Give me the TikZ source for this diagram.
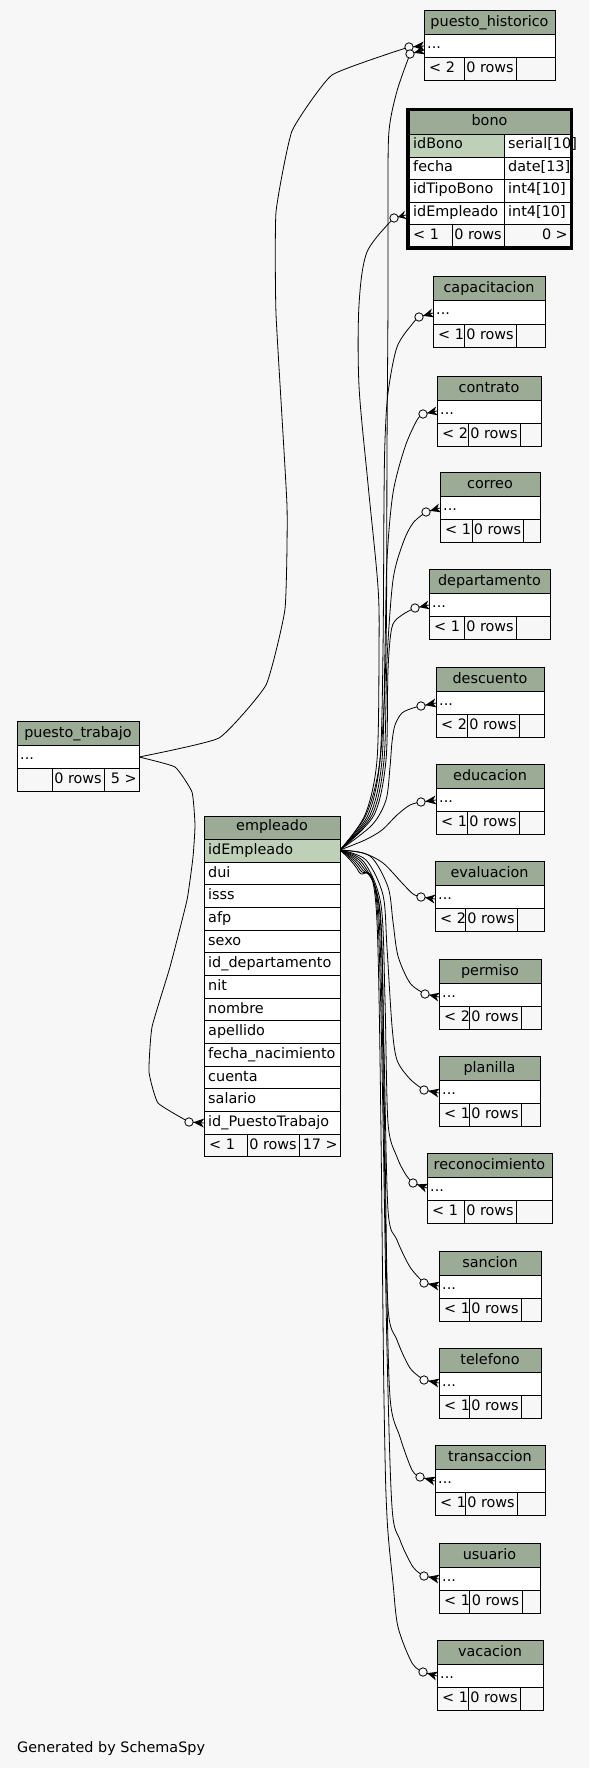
\documentclass[tikz,border=0pt]{standalone}
\usepackage{fontspec}
\setmainfont{DejaVu Sans}
\usetikzlibrary{calc}
\definecolor{bgc}{HTML}{F7F7F7}
\definecolor{hdrc}{HTML}{9BAB96}
\definecolor{pkc}{HTML}{BED1B8}
\newlength\hw
\newcommand\tblfont{\fontsize{14.4}{17}\selectfont}
\tikzset{
 txt/.style={inner sep=0pt, anchor=base, font=\tblfont},
 cell/.style={draw=black, line width=1pt},
 conn/.style={draw=black, line width=0.8pt},
}
\newcommand\ctext[4]{%
 \settowidth\hw{\tblfont #4}%
 \node[txt, xshift=0.06\hw] (#1) at (#2,#3) {#4};}
% name, x1, x2, ytop, title, d1, d2, footer-left
\newcommand\stubtable[8]{%
 \path[cell, fill=hdrc] (#2,#4) rectangle (#3,{#4+24});
 \path[cell, fill=white] (#2,{#4+24}) rectangle (#3,{#4+47});
 \path[cell, fill=bgc] (#2,{#4+47}) rectangle (#3,{#4+70});
 \draw[cell] (#6,{#4+47}) -- (#6,{#4+70}) (#7,{#4+47}) -- (#7,{#4+70});
 \ctext{#1}{{(#2+#3)/2}}{{#4+16}}{#5}
 \node[txt, anchor=base west] (#1-r) at ({#2+3},{#4+38}) {...};
 \node[txt, anchor=base west] (#1-fl) at ({#2+5},{#4+62}) {#8};
 \ctext{#1-fm}{{(#6+#7)/2}}{{#4+62}}{0 rows}
}
\newcommand\crowo[2]{%
 \fill[black] ($(#1)!4.2pt!(#2)$) -- ($(#2)!4.5pt!90:(#1)$) -- ($(#2)!3pt!(#1)$) -- ($(#2)!4.5pt!-90:(#1)$) -- cycle;
 \draw[conn] ($(#1)!4.2pt!(#2)$) -- (#2);
 \draw[conn, fill=bgc] (#1) circle[radius=4.2pt];
}
\begin{document}
\begin{tikzpicture}[x=1pt,y=-1pt]
\fill[bgc] (0,0) rectangle (589,1768);
\useasboundingbox (0,0) rectangle (589,1768);

% ports and circles
\coordinate (emp-out) at (340,850);
\coordinate (pt-out) at (139,757);
\coordinate (emp-c) at (189,1122); \coordinate (emp-p) at (204,1123);
\coordinate (ph-c1) at (409,47); \coordinate (ph-p1) at (424,46);
\coordinate (ph-c2) at (410,54); \coordinate (ph-p2) at (424,50);
\coordinate (bono-c) at (394,218); \coordinate (bono-p) at (406,215);
\coordinate (cap-c) at (419,317); \coordinate (cap-p) at (433,313);
\coordinate (con-c) at (423,414); \coordinate (con-p) at (437,411);
\coordinate (cor-c) at (426,512); \coordinate (cor-p) at (440,508);
\coordinate (dep-c) at (415,608); \coordinate (dep-p) at (429,605);
\coordinate (des-c) at (421,706); \coordinate (des-p) at (436,703);
\coordinate (edu-c) at (421,802); \coordinate (edu-p) at (436,800);
\coordinate (eva-c) at (421,897); \coordinate (eva-p) at (435,899);
\coordinate (per-c) at (425,994); \coordinate (per-p) at (439,997);
\coordinate (pla-c) at (424,1090); \coordinate (pla-p) at (439,1093);
\coordinate (rec-c) at (413,1183); \coordinate (rec-p) at (427,1188);
\coordinate (san-c) at (424,1283); \coordinate (san-p) at (439,1286);
\coordinate (tel-c) at (424,1380); \coordinate (tel-p) at (439,1383);
\coordinate (tra-c) at (420,1477); \coordinate (tra-p) at (435,1481);
\coordinate (usu-c) at (424,1576); \coordinate (usu-p) at (439,1579);
\coordinate (vac-c) at (423,1672); \coordinate (vac-p) at (437,1676);

% connectors from puesto_trabajo
\draw[conn] plot[smooth, tension=0.25] coordinates {(pt-out) (219,738) (266,685) (285,609) (287,506) (276,314) (276,212) (292,131) (332,75) (ph-c1)};
\draw[conn] plot[smooth, tension=0.25] coordinates {(pt-out) (175,767) (192,792) (195,825) (193,857) (187,900) (170,967) (152,1027) (149,1072) (158,1103) (emp-c)};

% connectors from empleado (up)
\draw[conn] plot[smooth, tension=0.5] coordinates {(emp-out) (366,815) (380,760) (386,650) (387,450) (388,300) (388,194) (389,131) (397,91) (ph-c2)};
\draw[conn] plot[smooth, tension=0.5] coordinates {(emp-out) (365,815) (377,760) (379,650) (378,587) (368,484) (359,386) (359,305) (367,252) (bono-c)};
\draw[conn] plot[smooth, tension=0.5] coordinates {(emp-out) (368,815) (380,760) (383,650) (384,500) (385,440) (388,393) (397,347) (413,323) (cap-c)};
\draw[conn] plot[smooth, tension=0.5] coordinates {(emp-out) (370,815) (382,760) (385,650) (387,560) (393,493) (405,447) (417,420) (con-c)};
\draw[conn] plot[smooth, tension=0.5] coordinates {(emp-out) (372,815) (384,760) (387,660) (393,580) (403,543) (413,523) (cor-c)};
\draw[conn] plot[smooth, tension=0.5] coordinates {(emp-out) (374,815) (386,760) (388,670) (392,627) (402,615) (dep-c)};
\draw[conn] plot[smooth, tension=0.5] coordinates {(emp-out) (372,825) (386,800) (390,767) (392,742) (395,725) (402,713) (413,708) (des-c)};
\draw[conn] plot[smooth, tension=0.5] coordinates {(emp-out) (365,840) (382,830) (397,815) (410,805) (edu-c)};
% down
\draw[conn] plot[smooth, tension=0.5] coordinates {(emp-out) (363,853) (383,863) (403,884) (413,894) (eva-c)};
\draw[conn] plot[smooth, tension=0.5] coordinates {(emp-out) (370,856) (388,887) (393,922) (398,956) (410,983) (per-c)};
\draw[conn] plot[smooth, tension=0.5] coordinates {(emp-out) (366,860) (383,895) (387,948) (392,1026) (397,1060) (410,1079) (pla-c)};
\draw[conn] plot[smooth, tension=0.5] coordinates {(emp-out) (364,862) (381,905) (385,1000) (388,1123) (397,1157) (406,1175) (rec-c)};
\draw[conn] plot[smooth, tension=0.5] coordinates {(emp-out) (363,864) (380,910) (384,1050) (388,1210) (397,1240) (410,1267) (san-c)};
\draw[conn] plot[smooth, tension=0.5] coordinates {(emp-out) (362,866) (380,915) (385,1150) (388,1307) (397,1340) (410,1368) (tel-c)};
\draw[conn] plot[smooth, tension=0.5] coordinates {(emp-out) (361,868) (379,918) (386,1250) (390,1397) (400,1437) (412,1470) (tra-c)};
\draw[conn] plot[smooth, tension=0.5] coordinates {(emp-out) (360,870) (378,920) (387,1350) (392,1507) (400,1540) (413,1567) (usu-c)};
\draw[conn] plot[smooth, tension=0.5] coordinates {(emp-out) (359,872) (377,922) (384,1400) (387,1517) (393,1583) (398,1627) (412,1663) (vac-c)};

% stub tables
\stubtable{ph}{424}{555}{11}{puesto\_historico}{464}{516}{< 2}
\stubtable{cap}{433}{545}{277}{capacitacion}{464}{516}{< 1}
\stubtable{con}{437}{541}{376}{contrato}{468}{520}{< 2}
\stubtable{cor}{440}{540}{472}{correo}{472}{523}{< 1}
\stubtable{dep}{429}{550}{569}{departamento}{464}{516}{< 1}
\stubtable{des}{436}{544}{667}{descuento}{467}{519}{< 2}
\stubtable{edu}{436}{544}{764}{educacion}{467}{519}{< 1}
\stubtable{eva}{435}{544}{861}{evaluacion}{465}{517}{< 2}
\stubtable{per}{439}{541}{959}{permiso}{469}{521}{< 2}
\stubtable{pla}{439}{540}{1056}{planilla}{469}{521}{< 1}
\stubtable{rec}{427}{552}{1153}{reconocimiento}{464}{516}{< 1}
\stubtable{san}{439}{541}{1251}{sancion}{469}{521}{< 1}
\stubtable{tel}{439}{541}{1348}{telefono}{469}{521}{< 1}
\stubtable{tra}{435}{545}{1445}{transaccion}{465}{517}{< 1}
\stubtable{usu}{439}{540}{1543}{usuario}{469}{522}{< 1}
\stubtable{vac}{437}{543}{1640}{vacacion}{468}{520}{< 1}

% puesto_trabajo
\path[cell, fill=hdrc] (17,721) rectangle (139,745);
\path[cell, fill=white] (17,745) rectangle (139,768);
\path[cell, fill=bgc] (17,768) rectangle (139,791);
\draw[cell] (52,768) -- (52,791) (104,768) -- (104,791);
\ctext{pt}{78}{737}{puesto\_trabajo}
\node[txt, anchor=base west] (pt-r) at (20,759) {...};
\ctext{pt-fm}{78}{783}{0 rows}
\node[txt, anchor=base east] (pt-fr) at (137,783) {5 >};

% bono
\path[cell, fill=hdrc] (409,111) rectangle (570,135);
\path[cell, fill=pkc] (409,135) rectangle (504,157.5);
\path[cell, fill=white] (504,135) rectangle (570,157.5);
\foreach \yy in {157.5,180,202.5} {
 \path[cell, fill=white] (409,\yy) rectangle (504,\yy+22.5);
 \path[cell, fill=white] (504,\yy) rectangle (570,\yy+22.5);
}
\path[cell, fill=bgc] (409,225) rectangle (570,247);
\draw[cell] (452,225) -- (452,247) (504,225) -- (504,247);
\ctext{bono}{489.5}{126}{bono}
\node[txt, anchor=base west] (bono-1a) at (413,149) {idBono};
\node[txt, anchor=base west] (bono-1b) at (508,149) {serial[10]};
\node[txt, anchor=base west] (bono-2a) at (413,171.5) {fecha};
\node[txt, anchor=base west] (bono-2b) at (508,171.5) {date[13]};
\node[txt, anchor=base west] (bono-3a) at (413,194) {idTipoBono};
\node[txt, anchor=base west] (bono-3b) at (508,194) {int4[10]};
\node[txt, anchor=base west] (bono-4a) at (413,216.5) {idEmpleado};
\node[txt, anchor=base west] (bono-4b) at (508,216.5) {int4[10]};
\node[txt, anchor=base west] (bono-fl) at (413,239.5) {< 1};
\ctext{bono-fm}{478}{239.5}{0 rows}
\node[txt, anchor=base east] (bono-fr) at (568,239.5) {0 >};
\draw[line width=3pt] (407.5,109.5) rectangle (571.5,248.5);

% empleado
\path[cell, fill=hdrc] (204,816) rectangle (340,839.33);
\ctext{emp}{272}{830.5}{empleado}
\foreach \t [count=\i from 0] in {idEmpleado,dui,isss,afp,sexo,id\_departamento,nit,nombre,apellido,fecha\_nacimiento,cuenta,salario,id\_PuestoTrabajo} {
 \pgfmathsetmacro\yt{839.33+22.667*\i}
 \ifnum\i=0 \path[cell, fill=pkc] (204,\yt) rectangle (340,\yt+22.667);
 \else \path[cell, fill=white] (204,\yt) rectangle (340,\yt+22.667); \fi
 \node[txt, anchor=base west] (emp-\i) at (208,\yt+15) {\t};
}
\path[cell, fill=bgc] (204,1134) rectangle (340,1156.67);
\draw[cell] (247,1134) -- (247,1156.67) (299,1134) -- (299,1156.67);
\node[txt, anchor=base west] (emp-fl) at (209,1149) {< 1};
\ctext{emp-fm}{273}{1149}{0 rows}
\node[txt, anchor=base east] (emp-fr) at (338,1149) {17 >};

% crow's feet
\crowo{ph-c1}{ph-p1}
\crowo{ph-c2}{ph-p2}
\crowo{bono-c}{bono-p}
\crowo{cap-c}{cap-p}
\crowo{con-c}{con-p}
\crowo{cor-c}{cor-p}
\crowo{dep-c}{dep-p}
\crowo{des-c}{des-p}
\crowo{edu-c}{edu-p}
\crowo{eva-c}{eva-p}
\crowo{per-c}{per-p}
\crowo{pla-c}{pla-p}
\crowo{rec-c}{rec-p}
\crowo{san-c}{san-p}
\crowo{tel-c}{tel-p}
\crowo{tra-c}{tra-p}
\crowo{usu-c}{usu-p}
\crowo{vac-c}{vac-p}
\crowo{emp-c}{emp-p}

\node[txt, anchor=base west] (gen) at (17,1752) {Generated by SchemaSpy};
\end{tikzpicture}
\end{document}
